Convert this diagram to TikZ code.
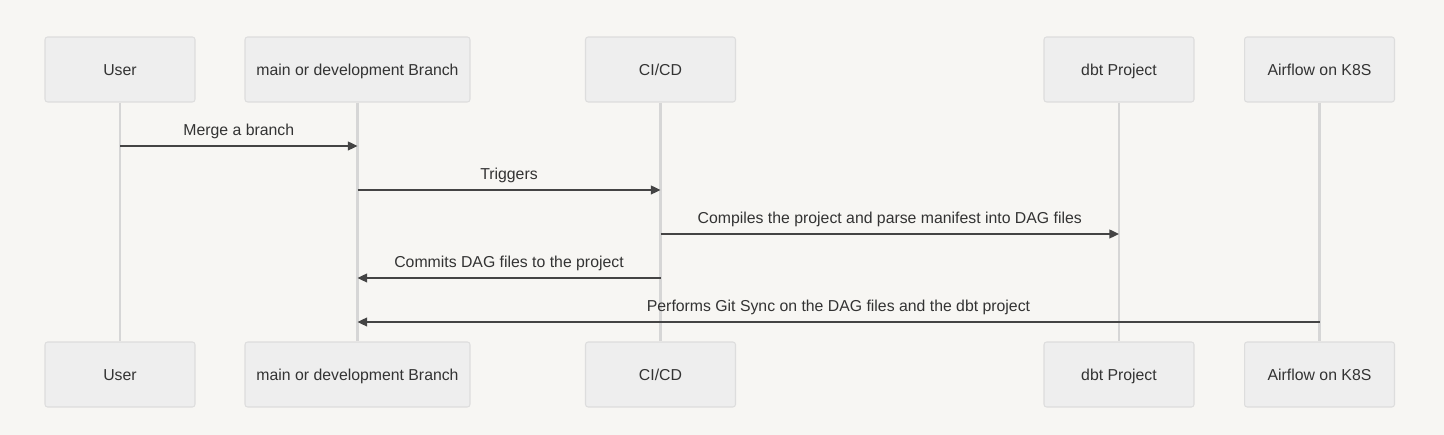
\documentclass[tikz,border=0pt]{standalone}
\usepackage{fontspec}
\setmainfont{Liberation Sans}
\usetikzlibrary{arrows.meta}

\definecolor{bgcol}{HTML}{F7F6F3}
\definecolor{boxfill}{HTML}{EEEEEE}
\definecolor{boxline}{HTML}{DDDDDD}
\definecolor{lifecol}{HTML}{D6D6D6}
\definecolor{msgcol}{HTML}{444444}
\definecolor{txtcol}{HTML}{333333}

\begin{document}
\begin{tikzpicture}[x=0.02cm, y=-0.02cm,
    font=\fontsize{9}{11}\selectfont, text=txtcol,
    actor/.style={draw=boxline, fill=boxfill, line width=0.6pt, rounded corners=1.5pt,
        minimum width=3cm, minimum height=1.3cm, inner sep=0pt,
        text height=6.5pt, text depth=0pt},
    lifeline/.style={draw=lifecol, line width=1.2pt},
    msg/.style={draw=msgcol, line width=1.1pt, -{Triangle[length=5.5pt,width=5pt]}},
    msglabel/.style={above, inner sep=0pt, yshift=3.5pt, text height=6.5pt, text depth=1.8pt}]

    %% Sequence of a merge

    % Background
    \fill[bgcol] (0,0) rectangle (1444,435);

    % Participants on top
    \node[actor] (userT) at (120,69.5) {User};
    \node[actor, minimum width=4.5cm] (mainT) at (357.5,69.5) {main or development Branch};
    \node[actor] (ciT) at (660.5,69.5) {CI/CD};
    \node[actor] (dbtT) at (1119,69.5) {dbt Project};
    \node[actor] (airT) at (1319.5,69.5) {Airflow on K8S};

    % Participants at the bottom
    \node[actor] (userB) at (120,374.5) {User};
    \node[actor, minimum width=4.5cm] (mainB) at (357.5,374.5) {main or development Branch};
    \node[actor] (ciB) at (660.5,374.5) {CI/CD};
    \node[actor] (dbtB) at (1119,374.5) {dbt Project};
    \node[actor] (airB) at (1319.5,374.5) {Airflow on K8S};

    % Lifelines
    \draw[lifeline] (userT) -- (userB);
    \draw[lifeline] (mainT) -- (mainB);
    \draw[lifeline] (ciT) -- (ciB);
    \draw[lifeline] (dbtT) -- (dbtB);
    \draw[lifeline] (airT) -- (airB);

    % Message heights
    \coordinate (m1) at (0,146);
    \coordinate (m2) at (0,190);
    \coordinate (m3) at (0,234);
    \coordinate (m4) at (0,278);
    \coordinate (m5) at (0,322);

    % Messages
    \draw[msg] (userT |- m1) -- (mainT |- m1) node[midway, msglabel] {Merge a branch};
    \draw[msg] (mainT |- m2) -- (ciT |- m2) node[midway, msglabel] {Triggers};
    \draw[msg] (ciT |- m3) -- (dbtT |- m3) node[midway, msglabel] {Compiles the project and parse manifest into DAG files};
    \draw[msg] (ciT |- m4) -- (mainT |- m4) node[midway, msglabel] {Commits DAG files to the project};
    \draw[msg] (airT |- m5) -- (mainT |- m5) node[midway, msglabel] {Performs Git Sync on the DAG files and the dbt project};

\end{tikzpicture}
\end{document}
